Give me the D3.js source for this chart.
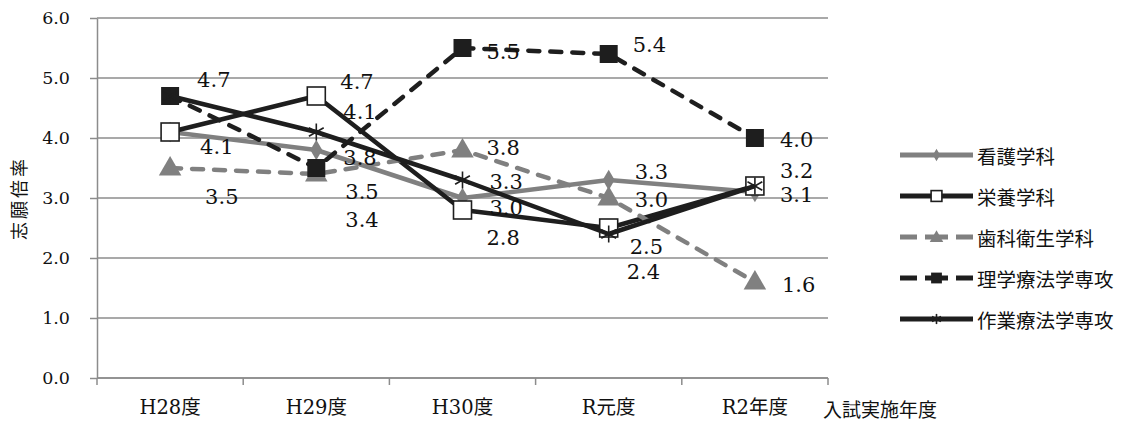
<!DOCTYPE html>
<html>
<head>
<meta charset="utf-8">
<script src="https://cdn.jsdelivr.net/npm/d3@7"></script>
<style>
  html, body { margin: 0; padding: 0; background: #fff; }
  svg { display: block; }
</style>
</head>
<body>
<svg id="chart" width="1132" height="421"></svg>
<script>
// Admission years and application ratios per department
const categories = ["H28度", "H29度", "H30度", "R元度", "R2年度"];
const seriesNames = ["看護学科", "栄養学科", "歯科衛生学科", "理学療法学専攻", "作業療法学専攻"];
const kango  = [4.1, 3.8, 3.0, 3.3, 3.1];
const eiyou  = [4.1, 4.7, 2.8, 2.5, 3.2];
const shika  = [3.5, 3.4, 3.8, 3.0, 1.6];
const rigaku = [4.7, 3.5, 5.5, 5.4, 4.0];
const sagyou = [4.7, 4.1, 3.3, 2.4, 3.2];
const yTicks = [0, 1, 2, 3, 4, 5, 6];
const yTitle = "志願倍率";
const xTitle = "入試実施年度";

// Drawing styles for each series
const styles = [
  { color: "#808080", dash: null,    marker: "diamond" },
  { color: "#1e1e1e", dash: null,    marker: "openSquare" },
  { color: "#808080", dash: "11,11", marker: "triangle" },
  { color: "#1e1e1e", dash: "11,11", marker: "square" },
  { color: "#1e1e1e", dash: null,    marker: "asterisk" }
];

// Value label nudges [dx, dy] in pixels, per series and year
const labelNudge = [
  [[30, 15], [27, 8],   [27, 10], [26, -8], [25, 3]],
  [[30, 15], [24, -14], [24, 28], [21, 19], [25, -15]],
  [[35, 29], [29, 46],  [24, -2], [26, 2],  [27, 3]],
  [[27, -16],[29, 24],  [24, 4],  [24, -9], [25, 2]],
  [[27, -16],[27, -20], [27, 2],  [18, 38], [25, -15]]
];

const values = [kango, eiyou, shika, rigaku, sagyou];

const svg = d3.select("#chart");
const plot = { left: 97, right: 828, top: 18, bottom: 378 };
const gridColor = "#8c8c8c";
const serif = "'DejaVu Serif', serif";
const cjk = "'Noto Sans CJK JP', sans-serif";

const x = d3.scaleBand().domain(categories).range([plot.left, plot.right]).padding(0);
const y = d3.scaleLinear().domain([0, 6]).range([plot.bottom, plot.top]);
const cx = c => x(c) + x.bandwidth() / 2;

// Horizontal gridlines
svg.append("g")
  .selectAll("line")
  .data(yTicks)
  .join("line")
  .attr("x1", plot.left).attr("x2", plot.right)
  .attr("y1", d => y(d)).attr("y2", d => y(d))
  .attr("stroke", gridColor).attr("stroke-width", 1.5);

// Y axis
const yAxis = svg.append("g")
  .attr("transform", `translate(${plot.left},0)`)
  .call(d3.axisLeft(y).tickValues(yTicks).tickFormat(d3.format(".1f")).tickSize(7).tickSizeOuter(0));
yAxis.select(".domain").attr("stroke", gridColor).attr("stroke-width", 1.5);
yAxis.selectAll(".tick line").attr("stroke", gridColor).attr("stroke-width", 1.5);
yAxis.selectAll(".tick text")
  .attr("x", -27)
  .attr("font-family", serif)
  .attr("font-size", 17.5)
  .attr("fill", "#111");

// X axis with ticks between categories
const xAxis = svg.append("g")
  .attr("transform", `translate(0,${plot.bottom})`);
xAxis.append("line")
  .attr("x1", plot.left).attr("x2", plot.right)
  .attr("stroke", gridColor).attr("stroke-width", 1.5);
const bounds = categories.map(c => x(c)).concat([plot.right]);
xAxis.selectAll("line.tk")
  .data(bounds)
  .join("line")
  .attr("class", "tk")
  .attr("x1", d => d).attr("x2", d => d)
  .attr("y1", 0).attr("y2", 7)
  .attr("stroke", gridColor).attr("stroke-width", 1.5);
xAxis.selectAll("text")
  .data(categories)
  .join("text")
  .attr("x", d => cx(d))
  .attr("y", 29)
  .attr("text-anchor", "middle")
  .attr("dominant-baseline", "central")
  .attr("font-family", "'DejaVu Serif', 'Noto Sans CJK JP', serif")
  .attr("font-size", 19.5)
  .attr("fill", "#111")
  .text(d => d);

// Axis titles
svg.append("text")
  .attr("transform", "translate(18,198) rotate(-90)")
  .attr("text-anchor", "middle")
  .attr("dominant-baseline", "central")
  .attr("font-family", cjk)
  .attr("font-size", 18)
  .attr("letter-spacing", 3)
  .attr("fill", "#111")
  .text(yTitle);
svg.append("text")
  .attr("x", 823).attr("y", 408)
  .attr("dominant-baseline", "central")
  .attr("font-family", cjk)
  .attr("font-size", 19)
  .attr("fill", "#111")
  .text(xTitle);

// Marker drawing
function drawMarker(g, type, color, px, py, s) {
  if (type === "diamond") {
    g.append("path")
      .attr("d", d3.symbol(d3.symbolDiamond, s * s * 0.55)())
      .attr("transform", `translate(${px},${py})`)
      .attr("fill", color);
  } else if (type === "openSquare") {
    g.append("rect")
      .attr("x", px - s / 2).attr("y", py - s / 2)
      .attr("width", s).attr("height", s)
      .attr("fill", "#fff").attr("stroke", color).attr("stroke-width", 1.6);
  } else if (type === "square") {
    g.append("rect")
      .attr("x", px - s / 2).attr("y", py - s / 2)
      .attr("width", s).attr("height", s)
      .attr("fill", color);
  } else if (type === "triangle") {
    g.append("path")
      .attr("d", d3.symbol(d3.symbolTriangle, s * s * 0.55)())
      .attr("transform", `translate(${px},${py + 1})`)
      .attr("fill", color);
  } else if (type === "asterisk") {
    const r = s / 2;
    const a = g.append("g").attr("transform", `translate(${px},${py})`)
      .attr("stroke", color).attr("stroke-width", 1.6);
    a.append("line").attr("x1", 0).attr("x2", 0).attr("y1", -r).attr("y2", r);
    a.append("line").attr("x1", -r * 0.87).attr("x2", r * 0.87).attr("y1", -r * 0.5).attr("y2", r * 0.5);
    a.append("line").attr("x1", -r * 0.87).attr("x2", r * 0.87).attr("y1", r * 0.5).attr("y2", -r * 0.5);
  }
}

const markerSize = { diamond: 15, openSquare: 18, triangle: 20, square: 18, asterisk: 17 };

const line = d3.line().x((d, i) => cx(categories[i])).y(d => y(d));

// Series lines and markers
values.forEach((vals, si) => {
  const st = styles[si];
  const g = svg.append("g");
  g.append("path")
    .datum(vals)
    .attr("d", line)
    .attr("fill", "none")
    .attr("stroke", st.color)
    .attr("stroke-width", 4.5)
    .attr("stroke-linejoin", "round")
    .attr("stroke-linecap", st.dash ? "round" : "butt")
    .attr("stroke-dasharray", st.dash);
  vals.forEach((v, i) => drawMarker(g, st.marker, st.color, cx(categories[i]), y(v), markerSize[st.marker]));
});

// Value labels; coinciding values in the same year share one label
const labelled = new Set();
values.forEach((vals, si) => {
  vals.forEach((v, i) => {
    const key = categories[i] + "|" + v;
    if (labelled.has(key)) return;
    labelled.add(key);
    svg.append("text")
      .attr("x", cx(categories[i]) + labelNudge[si][i][0])
      .attr("y", y(v) + labelNudge[si][i][1])
      .attr("dominant-baseline", "central")
      .attr("font-family", serif)
      .attr("font-size", 21)
      .attr("fill", "#111")
      .text(d3.format(".1f")(v));
  });
});

// Legend
const legend = svg.append("g").attr("transform", "translate(900,155)");
seriesNames.forEach((name, si) => {
  const st = styles[si];
  const row = legend.append("g").attr("transform", `translate(0,${si * 41})`);
  row.append("line")
    .attr("x1", 0).attr("x2", 73).attr("y1", 0).attr("y2", 0)
    .attr("stroke", st.color).attr("stroke-width", 5)
    .attr("stroke-dasharray", st.dash ? "17,8,23,8,17" : null);
  drawMarker(row, st.marker, st.color, 36.5, 0, markerSize[st.marker] * 0.6);
  row.append("text")
    .attr("x", 77).attr("y", 0)
    .attr("dominant-baseline", "central")
    .attr("font-family", cjk)
    .attr("font-size", 19.5)
    .attr("fill", "#111")
    .text(name);
});
</script>
</body>
</html>
